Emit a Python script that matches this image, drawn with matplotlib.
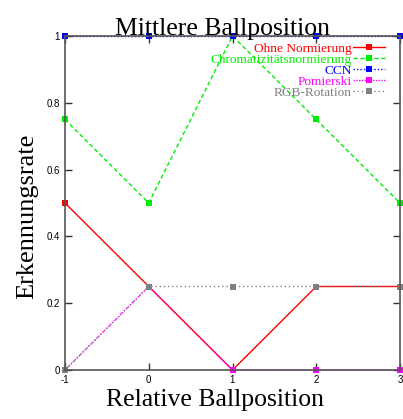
import matplotlib
matplotlib.use("Agg")
import matplotlib.pyplot as plt

plt.rcParams["axes.unicode_minus"] = False

x = [-1, 0, 1, 2, 3]
ohne = [0.5, 0.25, 0.0, 0.25, 0.25]
chroma = [0.75, 0.5, 1.0, 0.75, 0.5]
ccn = [1.0, 1.0, 1.0, 1.0, 1.0]
pomierski = [0.0, 0.25, 0.0, 0.0, 0.0]
rgb = [0.0, 0.25, 0.25, 0.25, 0.25]

series = [
    ("Ohne Normierung", ohne, "#ff0000", "-"),
    ("Chromatizitätsnormierung", chroma, "#00ee00", (0, (3, 2))),
    ("CCN", ccn, "#0000ff", (0, (1, 1.5))),
    ("Pomierski", pomierski, "#ff00ff", (0, (1, 1))),
    ("RGB-Rotation", rgb, "#808080", (0, (1, 2))),
]

fig = plt.figure(figsize=(4.03, 4.19), dpi=100)
ax = fig.add_axes([65/403, 49/419, 335/403, 334/419])

for label, ys, c, ls in series:
    ax.plot(x, ys, color=c, linestyle=ls, linewidth=1.0, marker="s",
            markersize=5, markeredgewidth=0, label=label, clip_on=False)

ax.set_xlim(-1, 3)
ax.set_ylim(0, 1)
ax.set_xticks([-1, 0, 1, 2, 3])
ax.set_yticks([0, 0.2, 0.4, 0.6, 0.8, 1])
ax.set_yticklabels(["0", "0.2", "0.4", "0.6", "0.8", "1"])
ax.tick_params(direction="in", top=True, right=True, length=5, width=1,
               labelsize=7, color="#333333")
for lab in ax.get_xticklabels() + ax.get_yticklabels():
    lab.set_family("Liberation Sans")
for s in ax.spines.values():
    s.set_color("#555555")
    s.set_linewidth(1.2)

serif = "Liberation Serif"
ax.set_title("Mittlere Ballposition", family=serif, fontsize=18.5, pad=1, x=0.47)
ax.set_xlabel("Relative Ballposition", family=serif, fontsize=18.5)
ax.xaxis.set_label_coords(0.448, -0.058)
ax.set_ylabel("Erkennungsrate", family=serif, fontsize=19)
ax.yaxis.set_label_coords(-0.08, 0.46)

leg = ax.legend(loc="upper right", bbox_to_anchor=(0.98, 1.005), frameon=False,
                markerfirst=False, labelcolor="linecolor",
                prop={"family": serif, "size": 9.6}, handlelength=2.4,
                handletextpad=0.1, labelspacing=-0.1, borderaxespad=0.2)

fig.savefig("out.png", dpi=100)
